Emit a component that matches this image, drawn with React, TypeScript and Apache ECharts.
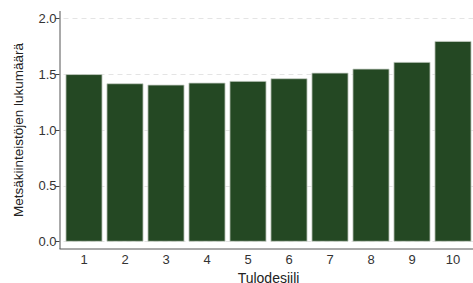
import React, { useEffect, useRef } from "react";
import * as echarts from "echarts";

const categories = ["1", "2", "3", "4", "5", "6", "7", "8", "9", "10"];
const values = [1.5, 1.418, 1.406, 1.424, 1.439, 1.463, 1.513, 1.549, 1.609, 1.797];
const yTitle = "Metsäkiinteistöjen lukumäärä";
const xTitle = "Tulodesiili";

export default function App() {
  const ref = useRef<HTMLDivElement>(null);
  useEffect(() => {
    document.body.style.margin = "0";
    const chart = echarts.init(ref.current!, null, { renderer: "svg" });
    const font = "Liberation Sans, Arial, sans-serif";
    chart.setOption({
      animation: false,
      textStyle: { fontFamily: font },
      grid: {
        left: 63.5,
        top: 18.3,
        width: 410,
        bottom: 41.3,
        containLabel: false,
        outerBoundsMode: "none",
      },
      xAxis: {
        type: "category",
        data: categories,
        offset: 7,
        axisLine: { show: false },
        axisTick: { show: false },
        axisLabel: { color: "#333", fontSize: 13, margin: 4, fontFamily: font },
        name: xTitle,
        nameLocation: "middle",
        nameGap: 17,
        nameTextStyle: { color: "#222", fontSize: 14, fontFamily: font, lineHeight: 14 },
      },
      yAxis: {
        type: "value",
        min: 0,
        max: 2,
        interval: 0.5,
        offset: 4,
        axisLine: { show: false },
        axisTick: { show: true, length: 4, lineStyle: { color: "#444" } },
        axisLabel: {
          color: "#333",
          fontSize: 13,
          margin: 3,
          fontFamily: font,
          formatter: (v: number) => v.toFixed(1),
        },
        splitLine: { show: true, lineStyle: { color: "#e4e4e4", type: [5, 4], width: 1 } },
        name: yTitle,
        nameLocation: "middle",
        nameGap: 34,
        nameTextStyle: { color: "#222", fontSize: 13.5, fontFamily: font },
      },
      graphic: [
        { type: "line", shape: { x1: 60, y1: 11, x2: 60, y2: 249 }, style: { stroke: "#555", lineWidth: 1 } },
        { type: "line", shape: { x1: 59.5, y1: 249, x2: 473, y2: 249 }, style: { stroke: "#555", lineWidth: 1 } },
      ],
      series: [
        {
          type: "bar",
          data: values,
          barCategoryGap: "10%",
          itemStyle: { color: "#244823", borderColor: "#c8cfc6", borderWidth: 0.8 },
        },
      ],
    });
    return () => chart.dispose();
  }, []);
  return <div ref={ref} style={{ width: 473, height: 283 }} />;
}
